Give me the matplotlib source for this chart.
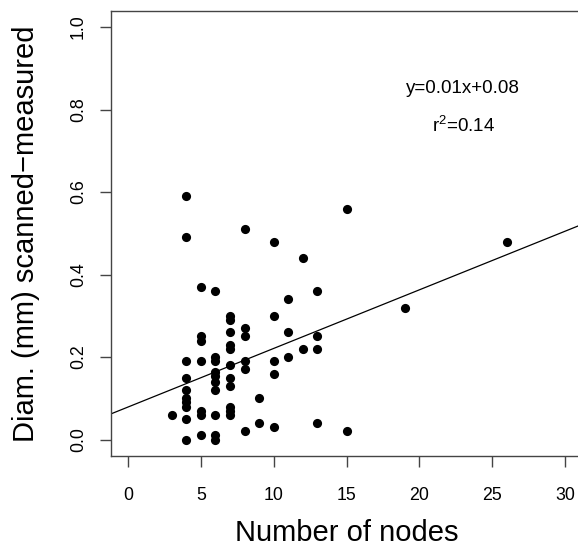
import numpy as np
import matplotlib
matplotlib.use('Agg')
import matplotlib.pyplot as plt

plt.rcParams['font.family'] = ['Liberation Sans', 'DejaVu Sans']

# number of nodes (x) and diameter difference (y)
nodes = [3,
         4, 4, 4, 4, 4, 4, 4, 4, 4, 4,
         5, 5, 5, 5, 5, 5, 5,
         6, 6, 6, 6, 6, 6, 6, 6, 6, 6,
         7, 7, 7, 7, 7, 7, 7, 7, 7, 7, 7,
         8, 8, 8, 8, 8, 8,
         9, 9,
         10, 10, 10, 10, 10,
         11, 11, 11,
         12, 12,
         13, 13, 13, 13,
         15, 15,
         19,
         26]
diam = [0.06,
        0.59, 0.49, 0.19, 0.15, 0.12, 0.10, 0.09, 0.08, 0.05, 0.00,
        0.37, 0.25, 0.24, 0.19, 0.07, 0.06, 0.01,
        0.36, 0.20, 0.19, 0.165, 0.155, 0.14, 0.12, 0.06, 0.01, 0.00,
        0.30, 0.29, 0.26, 0.23, 0.22, 0.18, 0.15, 0.13, 0.08, 0.07, 0.06,
        0.51, 0.27, 0.25, 0.19, 0.17, 0.02,
        0.10, 0.04,
        0.48, 0.30, 0.19, 0.16, 0.03,
        0.34, 0.26, 0.20,
        0.44, 0.22,
        0.36, 0.25, 0.22, 0.04,
        0.56, 0.02,
        0.32,
        0.48]

# regression line
fit_intercept = 0.079
fit_slope = 0.0142

fig = plt.figure(figsize=(5.78, 5.48), dpi=100)
ax = fig.add_axes([110.6/578, 1 - 456.1/548, (582.5 - 110.6)/578, (456.1 - 10.5)/548])

ax.plot(nodes, diam, 'o', color='black', markersize=6.6, markeredgewidth=0)
ax.axline((0, fit_intercept), slope=fit_slope, color='black', lw=0.9)

ax.set_xlim(-1.2, 31.2)
ax.set_ylim(-0.04, 1.04)
ax.set_xticks([0, 5, 10, 15, 20, 25, 30])
ax.set_yticks([0.0, 0.2, 0.4, 0.6, 0.8, 1.0])
ax.set_yticklabels(['0.0', '0.2', '0.4', '0.6', '0.8', '1.0'], rotation=90, va='center')

for s in ax.spines.values():
    s.set_color('#444444')
    s.set_linewidth(1.0)
ax.tick_params(axis='both', length=8, width=1.0, color='#444444', labelsize=12.8)
ax.tick_params(axis='x', pad=14)
ax.tick_params(axis='y', pad=9)

ax.text(23, 0.85, 'y=0.01x+0.08', ha='center', va='center', fontsize=13.5)
ax.text(23, 0.76, '$\\mathregular{r^2}$=0.14', ha='center', va='center', fontsize=13.5)

fig.text(346.5/578, 1 - 533/548, 'Number of nodes', ha='center', va='center', fontsize=21)
fig.text(25.8/578, 1 - 233.3/548, 'Diam. (mm) scanned\u2212measured', ha='center', va='center',
         rotation=90, fontsize=21)

plt.savefig('out.png', dpi=100)
